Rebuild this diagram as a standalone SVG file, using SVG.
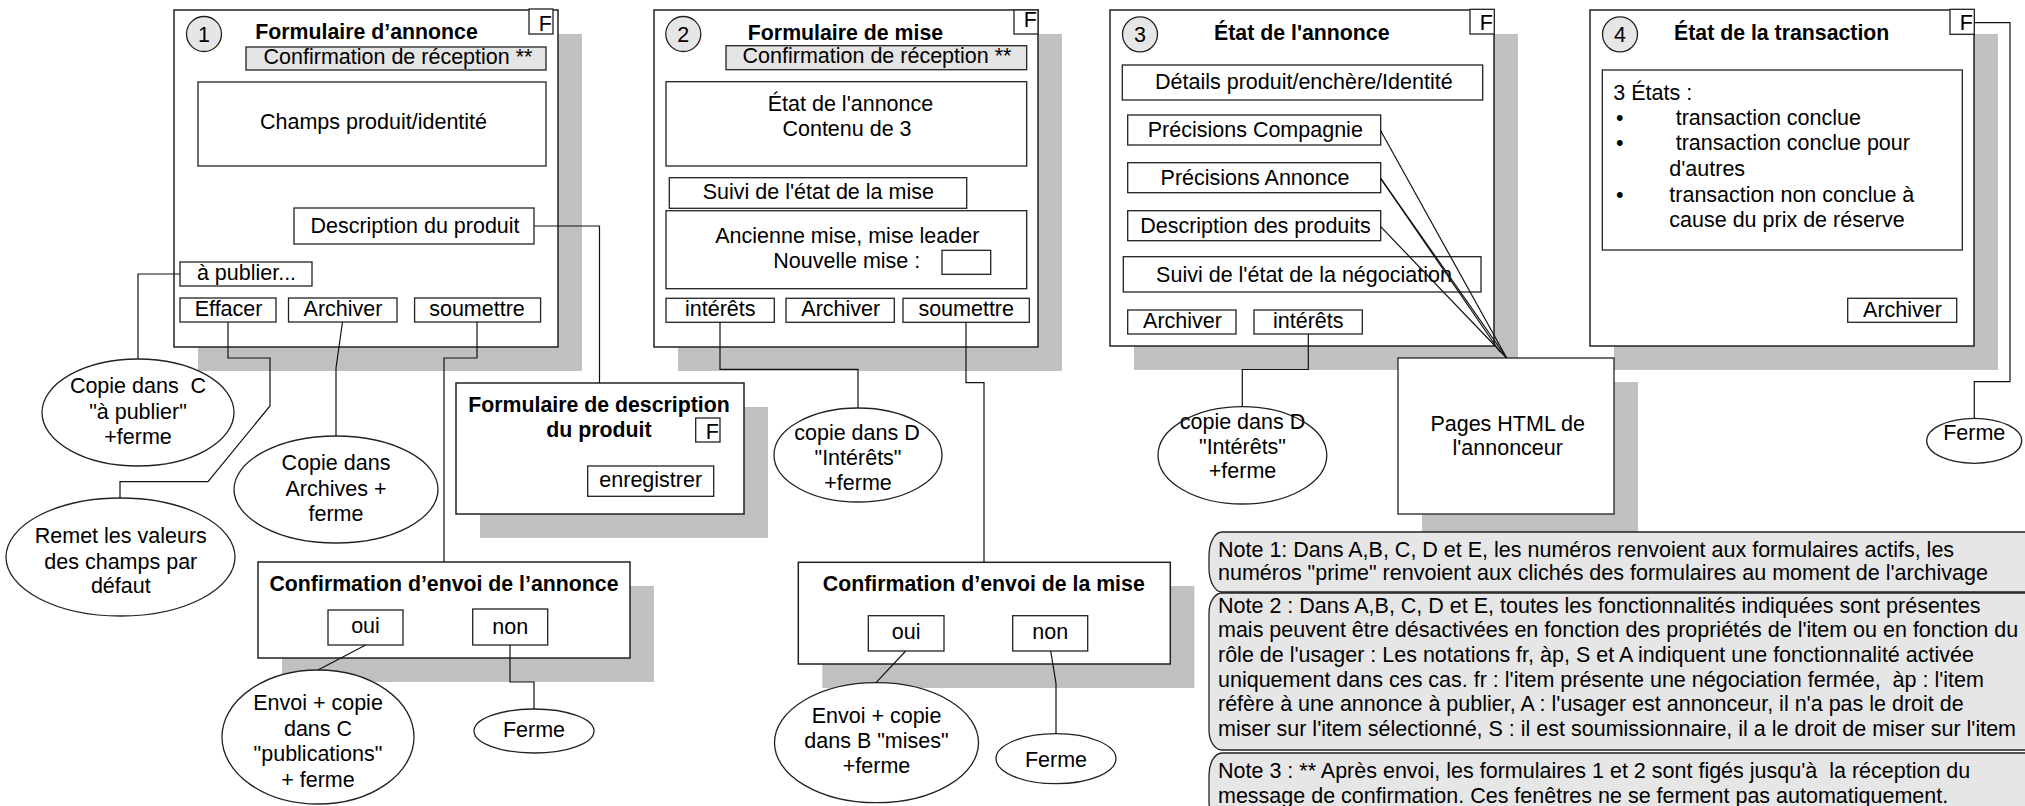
<svg xmlns="http://www.w3.org/2000/svg" width="2025" height="806" viewBox="0 0 2025 806">
<style>
.sh{fill:#c0c0c0}
.fr{fill:#fff;stroke:#222;stroke-width:1.5}
.bx{fill:#fff;stroke:#222;stroke-width:1.3}
.gb{fill:#e4e4e4;stroke:#222;stroke-width:1.3}
.nm{fill:#e6e6e6;stroke:#222;stroke-width:1.3}
.el{fill:#fff;stroke:#222;stroke-width:1.3}
.nt{fill:#e6e6e6;stroke:#222;stroke-width:1.3}
.t{font-family:"Liberation Sans",Arial,sans-serif;font-size:21.5px;fill:#000}
.c{text-anchor:middle}
.e{text-anchor:end}
.b{font-weight:bold;font-size:21.3px}
.cn{fill:none;stroke:#111;stroke-width:1.2}
</style>
<rect width="2025" height="806" fill="#fff"/>

<g id="form1">
<rect class="sh" x="198" y="34" width="384" height="337"/>
<rect class="fr" x="174" y="10" width="384" height="337"/>
<rect class="bx" x="529" y="9" width="24" height="25"/>
<text class="t e" x="552" y="31">F</text>
<ellipse class="nm" cx="204" cy="34" rx="17.5" ry="17.5"/>
<text class="t c" x="204" y="41.7">1</text>
<text class="t b c" x="366.5" y="39.3">Formulaire d’annonce</text>
<rect class="gb" x="246" y="47" width="300" height="23"/>
<text class="t c" x="398" y="64">Confirmation de réception **</text>
<rect class="bx" x="198" y="82" width="348" height="84"/>
<text class="t c" x="373.5" y="129">Champs produit/identité</text>
<rect class="bx" x="294" y="208" width="240" height="36"/>
<text class="t c" x="415" y="233">Description du produit</text>
<rect class="bx" x="180" y="262" width="132" height="24"/>
<text class="t c" x="246.5" y="280">à publier...</text>
<rect class="bx" x="180" y="298" width="96" height="24"/>
<text class="t c" x="228.6" y="316">Effacer</text>
<rect class="bx" x="288.5" y="298" width="108.5" height="24"/>
<text class="t c" x="343" y="316">Archiver</text>
<rect class="bx" x="414.6" y="298" width="126" height="24"/>
<text class="t c" x="477" y="316">soumettre</text>
</g>

<g id="form2">
<rect class="sh" x="678" y="34" width="384" height="337"/>
<rect class="fr" x="654" y="10" width="384" height="337"/>
<rect class="bx" x="1014" y="10" width="24" height="24"/>
<text class="t e" x="1037" y="27">F</text>
<ellipse class="nm" cx="683.3" cy="34" rx="17.5" ry="17.5"/>
<text class="t c" x="683.3" y="41.7">2</text>
<text class="t b c" x="845.5" y="40">Formulaire de mise</text>
<rect class="gb" x="726" y="45.7" width="300.7" height="24"/>
<text class="t c" x="877" y="63.3">Confirmation de réception **</text>
<rect class="bx" x="666" y="81.7" width="360.7" height="84.3"/>
<text class="t c" x="850.5" y="111">État de l'annonce</text>
<text class="t c" x="847" y="136">Contenu de 3</text>
<rect class="bx" x="669.3" y="177.7" width="297.4" height="30.6"/>
<text class="t c" x="818.3" y="199.3">Suivi de l'état de la mise</text>
<rect class="bx" x="666" y="210.7" width="360.7" height="78"/>
<text class="t c" x="847.3" y="243.3">Ancienne mise, mise leader</text>
<text class="t" x="773.3" y="268.3">Nouvelle mise :</text>
<rect class="bx" x="942" y="250.3" width="48.7" height="24"/>
<rect class="bx" x="666" y="298.3" width="108.3" height="24"/>
<text class="t c" x="720.3" y="316">intérêts</text>
<rect class="bx" x="786" y="298.3" width="108.3" height="24"/>
<text class="t c" x="840.8" y="316">Archiver</text>
<rect class="bx" x="903" y="298.3" width="126.3" height="24"/>
<text class="t c" x="966.2" y="316">soumettre</text>
</g>

<g id="form3">
<rect class="sh" x="1134" y="34" width="384" height="336"/>
<rect class="fr" x="1110" y="10" width="384" height="336"/>
<rect class="bx" x="1470" y="9.3" width="24.3" height="24.7"/>
<text class="t e" x="1493" y="30">F</text>
<ellipse class="nm" cx="1140" cy="34.3" rx="17.5" ry="17.5"/>
<text class="t c" x="1140" y="42">3</text>
<text class="t b c" x="1301.8" y="40">État de l'annonce</text>
<rect class="bx" x="1122.3" y="65" width="360.4" height="35"/>
<text class="t c" x="1303.8" y="89.3">Détails produit/enchère/Identité</text>
<rect class="bx" x="1127.7" y="115" width="253" height="30"/>
<text class="t c" x="1255.3" y="136.7">Précisions Compagnie</text>
<rect class="bx" x="1127.7" y="162.7" width="253" height="30"/>
<text class="t c" x="1255" y="185">Précisions Annonce</text>
<rect class="bx" x="1127.7" y="210.7" width="253" height="30"/>
<text class="t c" x="1255.5" y="232.7">Description des produits</text>
<rect class="bx" x="1123.3" y="256.7" width="357.7" height="35.3"/>
<text class="t c" x="1304" y="281.7">Suivi de l'état de la négociation</text>
<rect class="bx" x="1127.7" y="310" width="108.3" height="24"/>
<text class="t c" x="1182.5" y="328">Archiver</text>
<rect class="bx" x="1254" y="310" width="108.3" height="24"/>
<text class="t c" x="1308.3" y="328">intérêts</text>
</g>

<g id="form4">
<rect class="sh" x="1614" y="34" width="384" height="336"/>
<rect class="fr" x="1590" y="10" width="384" height="336"/>
<rect class="bx" x="1950" y="9.3" width="24.3" height="25"/>
<text class="t e" x="1973" y="30">F</text>
<ellipse class="nm" cx="1620" cy="34.3" rx="17.5" ry="17.5"/>
<text class="t c" x="1620" y="42">4</text>
<text class="t b c" x="1781.7" y="40">État de la transaction</text>
<rect class="bx" x="1602.3" y="70" width="360" height="180"/>
<text class="t" x="1613.3" y="100">3 États :</text>
<text class="t" x="1616" y="125">•</text>
<text class="t" x="1675.7" y="125">transaction conclue</text>
<text class="t" x="1616" y="150">•</text>
<text class="t" x="1675.7" y="150">transaction conclue pour</text>
<text class="t" x="1669.3" y="175.7">d'autres</text>
<text class="t" x="1616" y="201.7">•</text>
<text class="t" x="1669.3" y="201.7">transaction non conclue à</text>
<text class="t" x="1669.3" y="227.3">cause du prix de réserve</text>
<rect class="bx" x="1847.7" y="298.3" width="109" height="24"/>
<text class="t c" x="1902.5" y="316.7">Archiver</text>
</g>

<g id="pages-html">
<rect class="sh" x="1422" y="382" width="216" height="156"/>
<rect class="bx" x="1398" y="358" width="216" height="156"/>
<text class="t c" x="1507.7" y="430.7">Pages HTML de</text>
<text class="t c" x="1507.7" y="455">l'annonceur</text>
</g>

<g id="form-description">
<rect class="sh" x="480" y="407" width="288" height="131"/>
<rect class="fr" x="456" y="383" width="288" height="131"/>
<text class="t b c" x="599" y="411.7">Formulaire de description</text>
<text class="t b c" x="599" y="437">du produit</text>
<rect class="bx" x="695.7" y="418" width="24.3" height="24"/>
<text class="t e" x="719" y="439">F</text>
<rect class="bx" x="587.7" y="466" width="126" height="30.3"/>
<text class="t c" x="650.7" y="487">enregistrer</text>
</g>

<g id="conf-annonce">
<rect class="sh" x="282" y="586" width="372" height="96"/>
<rect class="fr" x="258" y="562" width="372" height="96"/>
<text class="t b c" x="444" y="591">Confirmation d’envoi de l’annonce</text>
<rect class="bx" x="328" y="610" width="75" height="35"/>
<text class="t c" x="365.5" y="633">oui</text>
<rect class="bx" x="472.7" y="609" width="75" height="36"/>
<text class="t c" x="510.2" y="634">non</text>
</g>

<g id="conf-mise">
<rect class="sh" x="822.3" y="586" width="372" height="102"/>
<rect class="fr" x="798.3" y="562.3" width="372" height="101.7"/>
<text class="t b c" x="983.8" y="591">Confirmation d’envoi de la mise</text>
<rect class="bx" x="868.3" y="615.7" width="75.7" height="35.3"/>
<text class="t c" x="906.2" y="639.3">oui</text>
<rect class="bx" x="1012.7" y="615.7" width="75" height="35.3"/>
<text class="t c" x="1050.2" y="639.3">non</text>
</g>

<g id="ell-apublier">
<ellipse class="el" cx="138" cy="412.5" rx="96" ry="53.5"/>
<text class="t c" x="138" y="393">Copie dans&#160; C</text>
<text class="t c" x="138" y="418.5">"à publier"</text>
<text class="t c" x="138" y="443.5">+ferme</text>
</g>
<g id="ell-archives">
<ellipse class="el" cx="336" cy="489.5" rx="102" ry="53.5"/>
<text class="t c" x="336" y="470">Copie dans</text>
<text class="t c" x="336" y="496">Archives +</text>
<text class="t c" x="336" y="521">ferme</text>
</g>
<g id="ell-remet">
<ellipse class="el" cx="120.5" cy="557" rx="114.5" ry="59"/>
<text class="t c" x="120.8" y="543">Remet les valeurs</text>
<text class="t c" x="120.8" y="569">des champs par</text>
<text class="t c" x="120.8" y="593">défaut</text>
</g>
<g id="ell-envoi-c">
<ellipse class="el" cx="318" cy="737" rx="96" ry="67"/>
<text class="t c" x="318" y="710">Envoi + copie</text>
<text class="t c" x="318" y="736">dans C</text>
<text class="t c" x="318" y="761">"publications"</text>
<text class="t c" x="318" y="787">+ ferme</text>
</g>
<g id="ell-ferme1">
<ellipse class="el" cx="534" cy="731" rx="60" ry="22"/>
<text class="t c" x="534" y="737">Ferme</text>
</g>
<g id="ell-interets2">
<ellipse class="el" cx="858" cy="455" rx="84" ry="47"/>
<text class="t c" x="857" y="440">copie dans D</text>
<text class="t c" x="858" y="465">"Intérêts"</text>
<text class="t c" x="858" y="490">+ferme</text>
</g>
<g id="ell-envoi-b">
<ellipse class="el" cx="876.5" cy="742.7" rx="102" ry="60"/>
<text class="t c" x="876.5" y="723.3">Envoi + copie</text>
<text class="t c" x="876.5" y="748.3">dans B "mises"</text>
<text class="t c" x="876.5" y="773.3">+ferme</text>
</g>
<g id="ell-ferme2">
<ellipse class="el" cx="1056" cy="758.7" rx="60" ry="25"/>
<text class="t c" x="1056" y="766.7">Ferme</text>
</g>
<g id="ell-interets3">
<ellipse class="el" cx="1242.4" cy="455.3" rx="84.4" ry="48.7"/>
<text class="t c" x="1242.5" y="429.3">copie dans D</text>
<text class="t c" x="1242.5" y="454.3">"Intérêts"</text>
<text class="t c" x="1242.5" y="478.3">+ferme</text>
</g>
<g id="ell-ferme4">
<ellipse class="el" cx="1974.2" cy="440.8" rx="47.5" ry="22.5"/>
<text class="t c" x="1974.2" y="440">Ferme</text>
</g>

<g id="note1">
<rect class="nt" x="1209" y="532" width="830" height="60" rx="13" ry="24"/>
<text class="t" x="1218" y="556.7">Note 1: Dans A,B, C, D et E, les numéros renvoient aux formulaires actifs, les</text>
<text class="t" x="1218" y="580">numéros "prime" renvoient aux clichés des formulaires au moment de l'archivage</text>
</g>
<g id="note2">
<rect class="nt" x="1209" y="593" width="830" height="157" rx="13" ry="20"/>
<text class="t" x="1218" y="612.7">Note 2 : Dans A,B, C, D et E, toutes les fonctionnalités indiquées sont présentes</text>
<text class="t" x="1218" y="637.3">mais peuvent être désactivées en fonction des propriétés de l'item ou en fonction du</text>
<text class="t" x="1218" y="662">rôle de l'usager : Les notations fr, àp, S et A indiquent une fonctionnalité activée</text>
<text class="t" x="1218" y="686.7">uniquement dans ces cas. fr : l'item présente une négociation fermée,&#160; àp : l'item</text>
<text class="t" x="1218" y="711">réfère à une annonce à publier, A : l'usager est annonceur, il n'a pas le droit de</text>
<text class="t" x="1218" y="736">miser sur l'item sélectionné, S : il est soumissionnaire, il a le droit de miser sur l'item</text>
</g>
<g id="note3">
<rect class="nt" x="1209" y="753" width="830" height="70" rx="13" ry="22"/>
<text class="t" x="1218" y="778.3">Note 3 : ** Après envoi, les formulaires 1 et 2 sont figés jusqu'à&#160; la réception du</text>
<text class="t" x="1218" y="802.5">message de confirmation. Ces fenêtres ne se ferment pas automatiquement.</text>
</g>

<g id="connectors">
<polyline class="cn" points="180,274 138,274 138,359"/>
<polyline class="cn" points="228,322 228,358 270,358 270,406 208,481.7 120,481.7 120,498"/>
<polyline class="cn" points="342.5,322 336,368 336,436"/>
<polyline class="cn" points="477,322 477,358 444,358 444,562"/>
<polyline class="cn" points="534,226 599.5,226 599.5,383"/>
<polyline class="cn" points="365.7,645 318,670"/>
<polyline class="cn" points="510,645 510,682 534,682 534,709"/>
<polyline class="cn" points="720,322.3 720,369.3 858,369.3 858,408"/>
<polyline class="cn" points="966,322.3 966,382.7 984,382.7 984,562.3"/>
<polyline class="cn" points="905.7,651 876,682.7"/>
<polyline class="cn" points="1050.7,651 1056,683.3 1056,733.7"/>
<polyline class="cn" points="1308.3,334 1308.3,369.5 1242.3,369.5 1242.3,406.6"/>
<line class="cn" x1="1380.7" y1="130.7" x2="1506.7" y2="358"/>
<line class="cn" x1="1380.7" y1="178.3" x2="1506.7" y2="358"/>
<line class="cn" x1="1380.7" y1="178.3" x2="1500" y2="352"/>
<line class="cn" x1="1380.7" y1="226.7" x2="1506.7" y2="358"/>
<polyline class="cn" points="1974.3,22.7 2010,22.7 2010,381.7 1974.3,381.7 1974.3,418.3"/>
</g>
</svg>
